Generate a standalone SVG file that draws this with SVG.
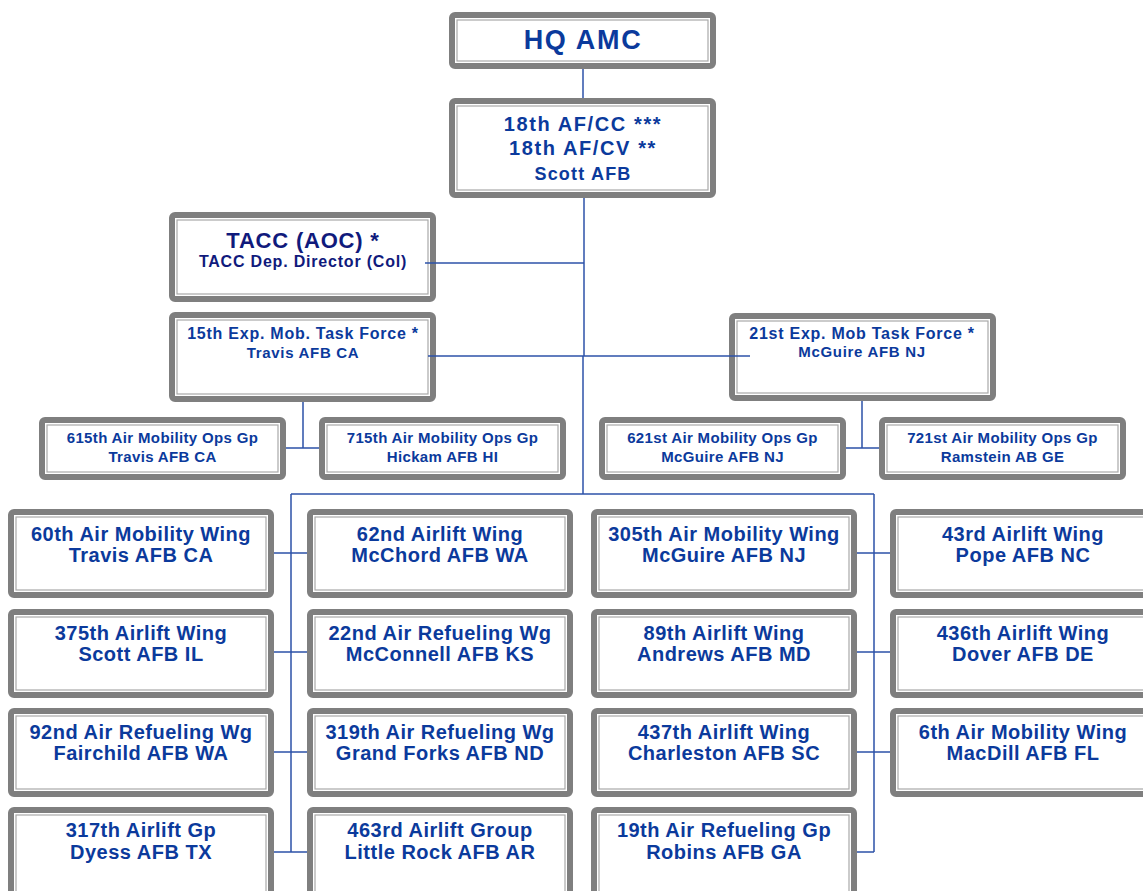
<svg xmlns="http://www.w3.org/2000/svg" width="1143" height="891" viewBox="0 0 1143 891">
<style>
.o{fill:#fff;stroke:#7f7f7f;stroke-width:6}
.i{fill:none;stroke:#a9a9a9;stroke-width:1.2}
text{font-family:"Liberation Sans",Arial,sans-serif;font-weight:bold;fill:#0b3a9c;text-anchor:middle}
.hq{font-size:27px;letter-spacing:1.7px}
.af{font-size:20px;letter-spacing:1.6px}
.af2{font-size:18px;letter-spacing:1.2px}
.t1{font-size:22px;letter-spacing:0.8px;fill:#101a7c}
.t2{font-size:16px;letter-spacing:0.8px;fill:#101a7c}
.tf1{font-size:16px;letter-spacing:0.75px}
.tf2{font-size:15px;letter-spacing:0.7px}
.og{font-size:15px;letter-spacing:0.35px}
.w{font-size:20px;letter-spacing:0.5px}
.c{fill:none;stroke:#2c52a8;stroke-width:1.5}
</style>
<g id="hq-amc"><rect class="o" x="452" y="15" width="261" height="51" rx="3"/><rect class="i" x="457" y="20" width="251" height="41"/><text class="hq" x="583" y="49">HQ AMC</text></g>
<g id="af18"><rect class="o" x="452" y="101" width="261" height="94" rx="3"/><rect class="i" x="457" y="106" width="251" height="84"/><text class="af" x="583" y="131">18th AF/CC ***</text><text class="af" x="583" y="155">18th AF/CV **</text><text class="af2" x="583" y="180">Scott AFB</text></g>
<g id="tacc"><rect class="o" x="172" y="215" width="261" height="84" rx="3"/><rect class="i" x="177" y="220" width="251" height="74"/><text class="t1" x="303" y="248">TACC (AOC) *</text><text class="t2" x="303" y="267">TACC Dep. Director (Col)</text></g>
<g id="emtf15"><rect class="o" x="172" y="315" width="261" height="84" rx="3"/><rect class="i" x="177" y="320" width="251" height="74"/><text class="tf1" x="303" y="339">15th Exp. Mob. Task Force *</text><text class="tf2" x="303" y="358">Travis AFB CA</text></g>
<g id="emtf21"><rect class="o" x="732" y="316" width="261" height="82" rx="3"/><rect class="i" x="737" y="321" width="251" height="72"/><text class="tf1" x="862" y="339">21st Exp. Mob Task Force *</text><text class="tf2" x="862" y="357">McGuire AFB NJ</text></g>
<g id="amog615"><rect class="o" x="42" y="420" width="241" height="57" rx="3"/><rect class="i" x="47" y="425" width="231" height="47"/><text class="og" x="162.5" y="443">615th Air Mobility Ops Gp</text><text class="og" x="162.5" y="462">Travis AFB CA</text></g>
<g id="amog715"><rect class="o" x="322" y="420" width="241" height="57" rx="3"/><rect class="i" x="327" y="425" width="231" height="47"/><text class="og" x="442.5" y="443">715th Air Mobility Ops Gp</text><text class="og" x="442.5" y="462">Hickam AFB HI</text></g>
<g id="amog621"><rect class="o" x="602" y="420" width="241" height="57" rx="3"/><rect class="i" x="607" y="425" width="231" height="47"/><text class="og" x="722.5" y="443">621st Air Mobility Ops Gp</text><text class="og" x="722.5" y="462">McGuire AFB NJ</text></g>
<g id="amog721"><rect class="o" x="882" y="420" width="241" height="57" rx="3"/><rect class="i" x="887" y="425" width="231" height="47"/><text class="og" x="1002.5" y="443">721st Air Mobility Ops Gp</text><text class="og" x="1002.5" y="462">Ramstein AB GE</text></g>
<g id="amw60"><rect class="o" x="11" y="512" width="260" height="83" rx="3"/><rect class="i" x="16" y="517" width="250" height="73"/><text class="w" x="141" y="541">60th Air Mobility Wing</text><text class="w" x="141" y="562">Travis AFB CA</text></g>
<g id="aw62"><rect class="o" x="310" y="512" width="260" height="83" rx="3"/><rect class="i" x="315" y="517" width="250" height="73"/><text class="w" x="440" y="541">62nd Airlift Wing</text><text class="w" x="440" y="562">McChord AFB WA</text></g>
<g id="amw305"><rect class="o" x="594" y="512" width="260" height="83" rx="3"/><rect class="i" x="599" y="517" width="250" height="73"/><text class="w" x="724" y="541">305th Air Mobility Wing</text><text class="w" x="724" y="562">McGuire AFB NJ</text></g>
<g id="aw43"><rect class="o" x="893" y="512" width="260" height="83" rx="3"/><rect class="i" x="898" y="517" width="250" height="73"/><text class="w" x="1023" y="541">43rd Airlift Wing</text><text class="w" x="1023" y="562">Pope AFB NC</text></g>
<g id="aw375"><rect class="o" x="11" y="612" width="260" height="83" rx="3"/><rect class="i" x="16" y="617" width="250" height="73"/><text class="w" x="141" y="640">375th Airlift Wing</text><text class="w" x="141" y="661">Scott AFB IL</text></g>
<g id="arw22"><rect class="o" x="310" y="612" width="260" height="83" rx="3"/><rect class="i" x="315" y="617" width="250" height="73"/><text class="w" x="440" y="640">22nd Air Refueling Wg</text><text class="w" x="440" y="661">McConnell AFB KS</text></g>
<g id="aw89"><rect class="o" x="594" y="612" width="260" height="83" rx="3"/><rect class="i" x="599" y="617" width="250" height="73"/><text class="w" x="724" y="640">89th Airlift Wing</text><text class="w" x="724" y="661">Andrews AFB MD</text></g>
<g id="aw436"><rect class="o" x="893" y="612" width="260" height="83" rx="3"/><rect class="i" x="898" y="617" width="250" height="73"/><text class="w" x="1023" y="640">436th Airlift Wing</text><text class="w" x="1023" y="661">Dover AFB DE</text></g>
<g id="arw92"><rect class="o" x="11" y="711" width="260" height="83" rx="3"/><rect class="i" x="16" y="716" width="250" height="73"/><text class="w" x="141" y="739">92nd Air Refueling Wg</text><text class="w" x="141" y="760">Fairchild AFB WA</text></g>
<g id="arw319"><rect class="o" x="310" y="711" width="260" height="83" rx="3"/><rect class="i" x="315" y="716" width="250" height="73"/><text class="w" x="440" y="739">319th Air Refueling Wg</text><text class="w" x="440" y="760">Grand Forks AFB ND</text></g>
<g id="aw437"><rect class="o" x="594" y="711" width="260" height="83" rx="3"/><rect class="i" x="599" y="716" width="250" height="73"/><text class="w" x="724" y="739">437th Airlift Wing</text><text class="w" x="724" y="760">Charleston AFB SC</text></g>
<g id="amw6"><rect class="o" x="893" y="711" width="260" height="83" rx="3"/><rect class="i" x="898" y="716" width="250" height="73"/><text class="w" x="1023" y="739">6th Air Mobility Wing</text><text class="w" x="1023" y="760">MacDill AFB FL</text></g>
<g id="ag317"><rect class="o" x="11" y="810" width="260" height="100" rx="3"/><rect class="i" x="16" y="815" width="250" height="90"/><text class="w" x="141" y="837">317th Airlift Gp</text><text class="w" x="141" y="859">Dyess AFB TX</text></g>
<g id="ag463"><rect class="o" x="310" y="810" width="260" height="100" rx="3"/><rect class="i" x="315" y="815" width="250" height="90"/><text class="w" x="440" y="837">463rd Airlift Group</text><text class="w" x="440" y="859">Little Rock AFB AR</text></g>
<g id="arg19"><rect class="o" x="594" y="810" width="260" height="100" rx="3"/><rect class="i" x="599" y="815" width="250" height="90"/><text class="w" x="724" y="837">19th Air Refueling Gp</text><text class="w" x="724" y="859">Robins AFB GA</text></g>
<g id="connectors" class="c">
<path d="M583 69V98"/>
<path d="M584 198V356"/>
<path d="M425 263H584"/>
<path d="M428 356H750"/>
<path d="M583 356V494"/>
<path d="M303 402V448M286 448H319"/>
<path d="M862 401V448M846 448H879"/>
<path d="M291 494H874"/>
<path d="M291 494V852M874 494V852"/>
<path d="M274 553H307M274 652H307M274 752H307M274 852H307"/>
<path d="M857 553H890M857 652H890M857 752H890M857 852H874"/>
</g>
</svg>
